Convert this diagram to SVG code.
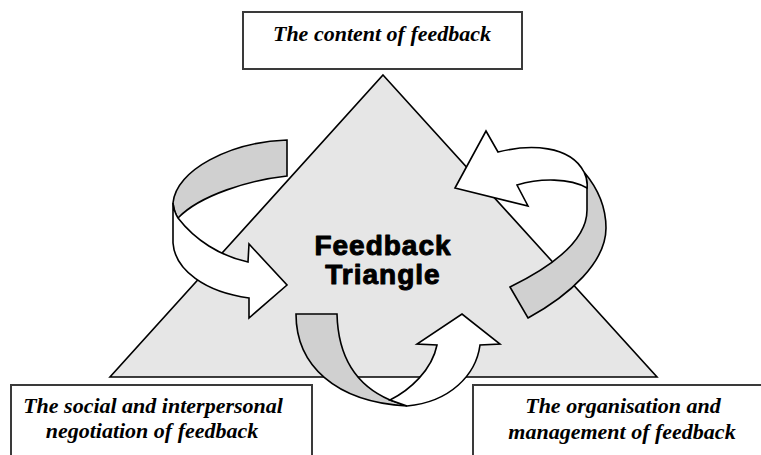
<svg xmlns="http://www.w3.org/2000/svg" width="761" height="455" viewBox="0 0 761 455">
<style>
.box{fill:#fff;stroke:#3a3a3a;stroke-width:2}
.lbl{font-family:"Liberation Serif","Times New Roman",serif;font-weight:bold;font-style:italic;font-size:22px;fill:#000;text-anchor:middle}
.tri{fill:#e6e6e6;stroke:#000;stroke-width:1.6;stroke-linejoin:miter}
.g{fill:#d0d0d0;stroke:#000;stroke-width:1.6;stroke-linejoin:miter}
.w{fill:#fff;stroke:#000;stroke-width:1.6;stroke-linejoin:miter}
.title{font-family:"Liberation Sans",Arial,sans-serif;font-weight:bold;font-size:28px;fill:#000;stroke:#000;stroke-width:1;stroke-linejoin:round;text-anchor:middle;letter-spacing:1px}
</style>
<rect width="761" height="455" fill="#fff"/>
<g id="triangle">
<polygon class="tri" points="383,75 657,377 110,377"/>
<text class="title" x="383" y="255">Feedback</text>
<text class="title" x="383" y="284">Triangle</text>
</g>
<g id="node-content">
<rect class="box" x="243" y="12" width="279" height="57"/>
<text class="lbl" x="382" y="41">The content of feedback</text>
</g>
<g id="node-social">
<rect class="box" x="11" y="385" width="301" height="90"/>
<text class="lbl" x="153" y="413">The social and interpersonal</text>
<text class="lbl" x="152" y="438">negotiation of feedback</text>
</g>
<g id="node-organisation">
<rect class="box" x="473" y="385" width="310" height="90"/>
<text class="lbl" x="623" y="413">The organisation and</text>
<text class="lbl" x="622" y="439">management of feedback</text>
</g>
<g id="connectors">
<g id="arrow-left">
<path class="g" d="M287,140 L287,176 C250,180 200,195 178,218 Q174,212 173,203 C176,170 230,142 287,140 Z"/>
<path class="w" d="M178,218 C195,240 220,256 248,262 L249,244 L287,285 L249,318 L249,298 C205,292 175,270 173,243 L173,203 Q174,212 178,218 Z"/>
</g>
<g id="arrow-right">
<path class="g" d="M584,172 C595,185 606,205 606,228 C606,262 570,295 528,318 L510,287 C555,265 587,240 587,210 L587,188 Q588,180 584,172 Z"/>
<path class="w" d="M455,188 L486,131 L498,152 C530,144 570,145 584,172 Q588,180 587,188 C570,178 540,178 517,185 L528,206 Z"/>
</g>
<g id="arrow-bottom">
<path class="g" d="M296,314 L337,314 C338,355 355,385 390,400 L407,406 C335,402 296,365 296,314 Z"/>
<path class="w" d="M390,400 C410,390 432,370 437,345 L417,344 L462,314 L500,344 L480,345 C476,375 450,402 407,406 Z"/>
</g>
</g>
</svg>
